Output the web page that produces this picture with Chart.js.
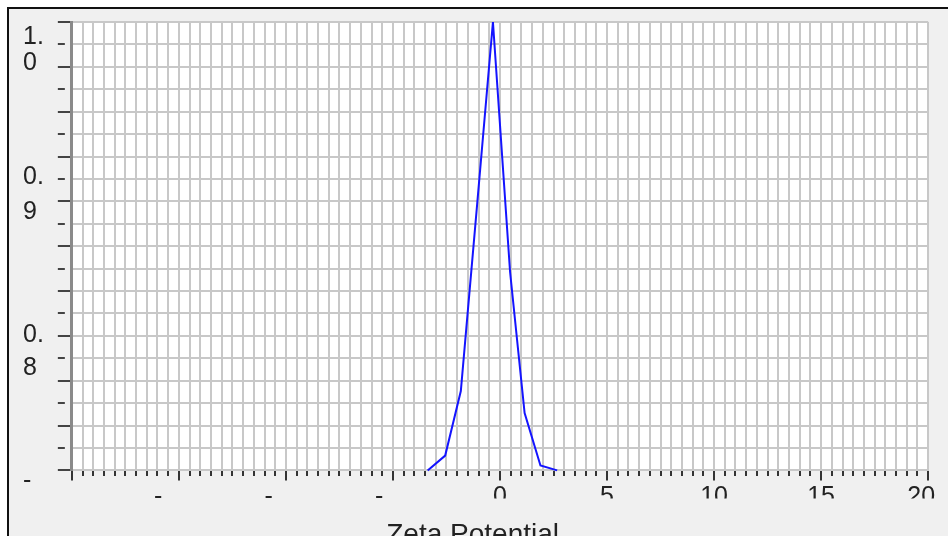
<!DOCTYPE html>
<html>
<head>
<meta charset="utf-8">
<title>Zeta Potential</title>
<script src="https://cdn.jsdelivr.net/npm/chart.js@4.4.1/dist/chart.umd.min.js"></script>
<style>
  html, body { margin: 0; padding: 0; background: #fff; overflow: hidden; }
  #frame {
    position: absolute; left: 7px; top: 7px;
    width: 960px; height: 560px;
    border: 2px solid #111; background: #f0f0f0;
    overflow: hidden;
  }
  #chart { position: absolute; left: 0; top: 0; }
</style>
</head>
<body>
<div id="frame"><canvas id="chart" width="944" height="553"></canvas></div>
<script>
// distribution (x = zeta potential, y = normalised intensity)
const zetaValues = [-3.38, -2.56, -1.83, -1.07, -0.33, 0.47, 1.15, 1.89, 2.67];
const intensity = [0, 0.033, 0.177, 0.592, 1.0, 0.443, 0.128, 0.011, 0];

// tick labels as the source shows them (negatives only show their sign,
// trailing spaces reproduce the off-centre placement)
const xTickValues = [-15, -10, -5, 0, 5, 10, 15, 20];
const xTickText = ["-      ", "-     ", "-    ", "0", "5", "10", "15", "20  "];
const yTickValues = [1.0, 0.65, 0.3, 0];
const yTickText = [["", "1.", "0"], ["0.", "9"], ["0.", "8"], ["-", ""]];
const axisTitle = "Zeta Potential ";

const FONT = "'Liberation Sans', Arial, Helvetica, sans-serif";

function isMultiple(v, m) {
  const q = v / m;
  return Math.abs(q - Math.round(q)) < 1e-6;
}

function findLabel(values, texts, v) {
  const i = values.findIndex(t => Math.abs(t - v) < 1e-6);
  return i < 0 ? "" : texts[i];
}

// the wrapped y labels are not evenly spaced in the source
function yLineHeight(v) {
  if (v === undefined) return 1.28;
  if (Math.abs(v - 1) < 1e-6) return 1.04;
  if (Math.abs(v - 0.65) < 1e-6) return 1.4;
  if (Math.abs(v - 0.3) < 1e-6) return 1.32;
  if (Math.abs(v) < 1e-6) return 0.4;
  return 1.28;
}

const plotBg = {
  id: "plotBg",
  beforeDraw(chart) {
    const { ctx, chartArea: a } = chart;
    ctx.save();
    ctx.fillStyle = "#ffffff";
    ctx.fillRect(a.left, a.top, a.right - a.left, a.bottom - a.top);
    ctx.restore();
    // the source cuts its x tick labels off halfway down
    const xs = chart.scales.x;
    const cutTop = xs.top + 28;
    const cutBottom = xs.bottom + 4;
    ctx.save();
    ctx.beginPath();
    ctx.rect(0, 0, chart.width, cutTop);
    ctx.rect(0, cutBottom, chart.width, chart.height - cutBottom);
    ctx.clip();
  },
  beforeDatasetsDraw(chart) {
    chart.ctx.restore();
  }
};

new Chart(document.getElementById("chart"), {
  type: "line",
  data: {
    datasets: [{
      data: zetaValues.map((x, i) => ({ x, y: intensity[i] })),
      borderColor: "#1414ff",
      borderWidth: 2,
      pointRadius: 0,
      tension: 0,
      fill: false,
      clip: false
    }]
  },
  options: {
    responsive: false,
    animation: false,
    events: [],
    layout: { autoPadding: false, padding: { left: 14, top: 13, right: 23, bottom: 0 } },
    scales: {
      x: {
        type: "linear",
        min: -20,
        max: 20,
        ticks: {
          stepSize: 0.5,
          autoSkip: false,
          maxRotation: 0,
          minRotation: 0,
          padding: 4,
          color: "#222",
          font: { family: FONT, size: 25, lineHeight: 1 },
          callback: v => findLabel(xTickValues, xTickText, v)
        },
        grid: {
          color: "#c8c8c8",
          lineWidth: 2,
          tickLength: 10,
          tickColor: "#333",
          tickWidth: 2,
          tickBorderDash: c => (c.tick && isMultiple(c.tick.value, 5)) ? [] : [5, 40]
        },
        border: { color: "#c8c8c8", width: 1 }
      },
      y: {
        min: 0,
        max: 1,
        ticks: {
          stepSize: 0.05,
          autoSkip: false,
          align: "start",
          crossAlign: "far",
          padding: 7,
          labelOffset: 3,
          color: "#222",
          font: c => ({ family: FONT, size: 25, lineHeight: yLineHeight(c.tick && c.tick.value) }),
          callback: v => findLabel(yTickValues, yTickText, v)
        },
        grid: {
          color: "#c8c8c8",
          lineWidth: 2,
          tickLength: 14,
          tickColor: "#444",
          tickWidth: 2,
          tickBorderDash: c => (c.tick && isMultiple(c.tick.value, 0.1)) ? [] : [7, 40]
        },
        border: { color: "#8a8a8a", width: 3 }
      }
    },
    plugins: {
      legend: { display: false },
      tooltip: { enabled: false },
      title: {
        display: true,
        text: axisTitle,
        position: "bottom",
        color: "#222",
        font: { family: FONT, size: 28, weight: "normal", lineHeight: 1.2 },
        padding: { top: 5, bottom: 10 }
      }
    }
  },
  plugins: [plotBg]
});
</script>
</body>
</html>
